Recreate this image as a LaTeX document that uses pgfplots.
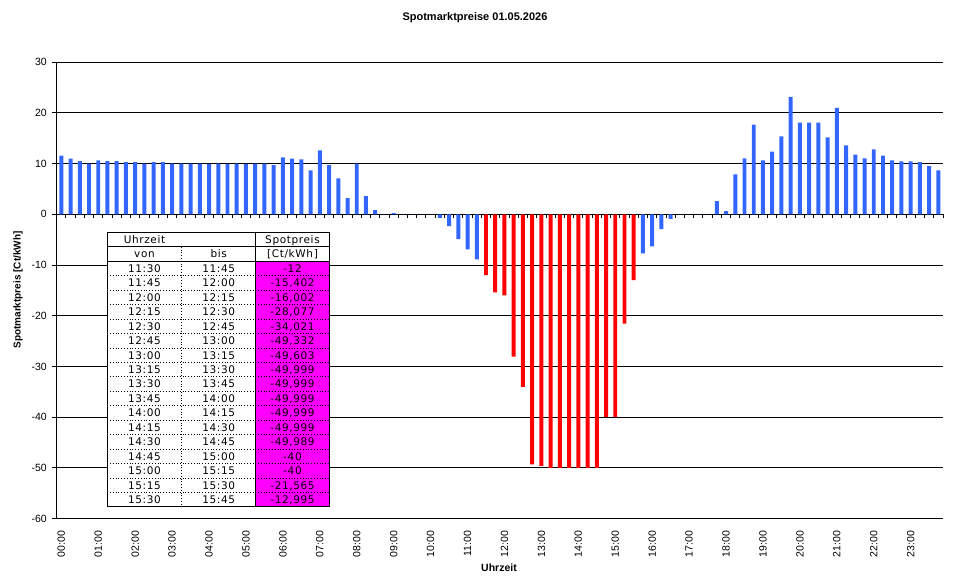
\documentclass[border=0pt]{standalone}
\usepackage{pgfplots}
\pgfplotsset{compat=1.18}
\usepackage{pgfplotstable}
\usepackage{fontspec}
\setmainfont{Liberation Sans}
\newfontfamily\tabfont[LetterSpace=6]{DejaVu Sans}
\definecolor{barblue}{RGB}{51,102,255}
\definecolor{barred}{RGB}{255,0,0}
\definecolor{cellmag}{RGB}{255,0,255}

\pgfplotstableread{
x y
0 11.6
1 11.0
2 10.5
3 10.0
4 10.65
5 10.5
6 10.5
7 10.3
8 10.3
9 10.0
10 10.3
11 10.3
12 10.0
13 10.0
14 10.0
15 10.0
16 9.95
17 10.0
18 9.95
19 10.0
20 9.95
21 10.0
22 10.0
23 9.7
24 11.25
25 11.0
26 10.85
27 8.7
28 12.6
29 9.7
30 7.1
31 3.2
32 10.0
33 3.6
34 0.85
35 0
36 0.25
37 0
38 0
39 0
40 0
41 -0.67
42 -2.3
43 -4.9
44 -6.9
45 -8.9
63 -7.7
64 -6.3
65 -2.9
66 -0.87
67 0
68 0
69 0
70 0
71 2.6
72 0.65
73 7.9
74 11.05
75 17.7
76 10.65
77 12.4
78 15.4
79 23.2
80 18.1
81 18.1
82 18.1
83 15.2
84 21.0
85 13.6
86 11.8
87 11.05
88 12.8
89 11.6
90 10.65
91 10.45
92 10.45
93 10.3
94 9.5
95 8.7
}\bluedata

\pgfplotstableread{
x y
46 -12
47 -15.402
48 -16.002
49 -28.077
50 -34.021
51 -49.332
52 -49.603
53 -49.999
54 -49.999
55 -49.999
56 -49.999
57 -49.999
58 -49.989
59 -40
60 -40
61 -21.565
62 -12.995
}\reddata

\begin{document}
\begin{tikzpicture}
\useasboundingbox (0bp,0bp) rectangle (964bp,586bp);
\begin{axis}[
  at={(56.7bp,67.5bp)}, anchor=south west,
  scale only axis, width=886.3bp, height=456.2bp,
  xmin=-0.5, xmax=95.5, ymin=-60, ymax=30,
  axis lines*=left,
  axis line style={black, line width=1bp},
  ytick={-60,-50,...,30},
  yticklabels={-60,-50,-40,-30,-20,-10,0,10,20,30},
  xtick={0,4,...,92},
  xticklabels={00:00,01:00,02:00,03:00,04:00,05:00,06:00,07:00,08:00,09:00,10:00,11:00,12:00,13:00,14:00,15:00,16:00,17:00,18:00,19:00,20:00,21:00,22:00,23:00},
  ymajorgrids,
  grid style={black, line width=1bp},
  tick align=outside,
  major tick length=4.4bp,
  ytick style={black, line width=1bp},
  xtick style={draw=none},
  yticklabel style={font=\fontsize{10.5bp}{12bp}\selectfont, xshift=-2bp},
  xticklabel style={font=\fontsize{10.5bp}{12bp}\selectfont, rotate=90, anchor=east, inner sep=0pt},
  xticklabel shift=8bp,
  clip=false,
]
\addplot[ybar, bar width=0.43, bar shift=0pt, fill=barblue, draw=none] table[x=x,y=y] {\bluedata};
\addplot[ybar, bar width=0.43, bar shift=0pt, fill=barred, draw=none] table[x=x,y=y] {\reddata};
\pgfplotsinvokeforeach{0.5,1.5,...,95.5}{
  \draw[black, line width=1bp] (axis cs:#1,0) -- ([yshift=-3.5bp]axis cs:#1,0);
}
\end{axis}

% titles
\node[font=\fontsize{11bp}{13bp}\selectfont\bfseries, anchor=base] at (475bp,565.5bp) {Spotmarktpreise 01.05.2026};
\node[font=\fontsize{10.5bp}{12bp}\selectfont\bfseries, anchor=base] at (499bp,14.5bp) {Uhrzeit};
\node[font=\fontsize{10bp}{12bp}\selectfont\bfseries, rotate=90, anchor=center] at (18bp,296bp) {Spotmarktpreis [Ct/kWh]};

% table
\def\rh{14.46}
\fill[white] (107.3bp,79bp) rectangle (329.3bp,353.7bp);
\fill[cellmag] (255.7bp,79bp) rectangle (329.3bp,324.78bp);
\foreach \k in {3,...,18}{
  \draw[black, dotted, line width=0.8bp] (107.3bp,{(353.7-\k*\rh)*1bp}) -- (329.3bp,{(353.7-\k*\rh)*1bp});
}
\draw[black, line width=0.8bp] (107.3bp,{(353.7-\rh)*1bp}) -- (329.3bp,{(353.7-\rh)*1bp});
\draw[black, line width=0.8bp] (107.3bp,{(353.7-2*\rh)*1bp}) -- (329.3bp,{(353.7-2*\rh)*1bp});
\draw[black, dotted, line width=0.8bp] (181.7bp,{(353.7-\rh)*1bp}) -- (181.7bp,79bp);
\draw[black, line width=0.8bp] (255.7bp,353.7bp) -- (255.7bp,79bp);
\draw[black, line width=1bp] (107.3bp,79bp) rectangle (329.3bp,353.7bp);

\tikzset{tabtxt/.style={font=\fontsize{10.5bp}{12bp}\tabfont, anchor=base, inner sep=0pt}}
\node[tabtxt] at (144.5bp,{(353.7-0.5*\rh-3.8)*1bp}) {Uhrzeit};
\node[tabtxt] at (292.5bp,{(353.7-0.5*\rh-3.8)*1bp}) {Spotpreis};
\node[tabtxt] at (144.5bp,{(353.7-1.5*\rh-3.8)*1bp}) {von};
\node[tabtxt] at (218.7bp,{(353.7-1.5*\rh-3.8)*1bp}) {bis};
\node[tabtxt] at (292.5bp,{(353.7-1.5*\rh-3.8)*1bp}) {[Ct/kWh]};
\foreach \a/\b/\c [count=\i from 2] in {
  11:30/11:45/{-12},
  11:45/12:00/{-15,402},
  12:00/12:15/{-16,002},
  12:15/12:30/{-28,077},
  12:30/12:45/{-34,021},
  12:45/13:00/{-49,332},
  13:00/13:15/{-49,603},
  13:15/13:30/{-49,999},
  13:30/13:45/{-49,999},
  13:45/14:00/{-49,999},
  14:00/14:15/{-49,999},
  14:15/14:30/{-49,999},
  14:30/14:45/{-49,989},
  14:45/15:00/{-40},
  15:00/15:15/{-40},
  15:15/15:30/{-21,565},
  15:30/15:45/{-12,995}}{
  \node[tabtxt] at (144.5bp,{(353.7-(\i+0.5)*\rh-3.8)*1bp}) {\a};
  \node[tabtxt] at (218.7bp,{(353.7-(\i+0.5)*\rh-3.8)*1bp}) {\b};
  \node[tabtxt] at (292.5bp,{(353.7-(\i+0.5)*\rh-3.8)*1bp}) {\c};
}
\end{tikzpicture}
\end{document}
